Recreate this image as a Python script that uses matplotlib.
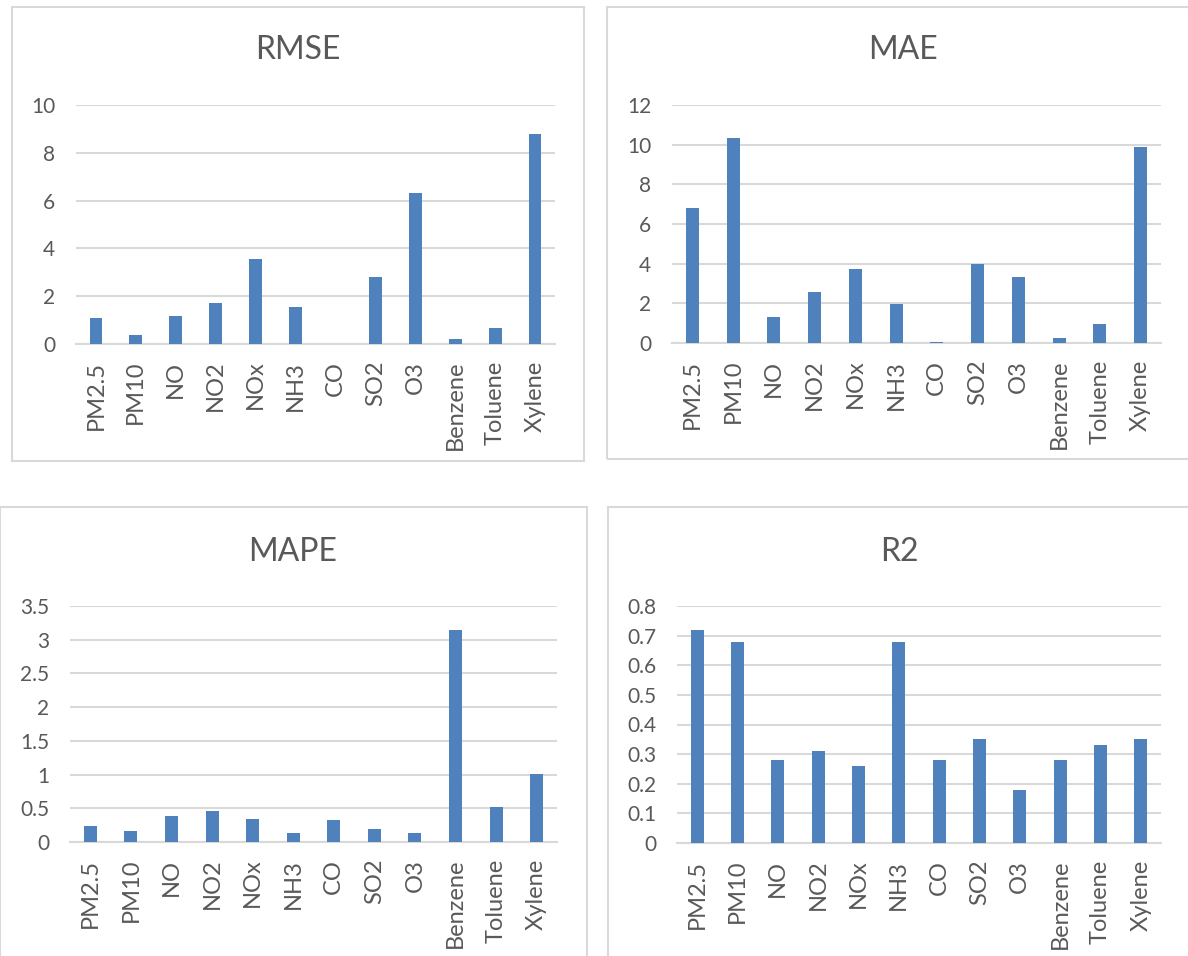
import matplotlib.pyplot as plt
from matplotlib.patches import Rectangle
import numpy as np

plt.rcParams['font.family'] = ['Lato', 'DejaVu Sans']

pollutants = ['PM2.5', 'PM10', 'NO', 'NO2', 'NOx', 'NH3', 'CO', 'SO2', 'O3',
              'Benzene', 'Toluene', 'Xylene']

rmse = [1.07, 0.36, 1.17, 1.73, 3.54, 1.55, 0.0, 2.80, 6.33, 0.21, 0.66, 8.79]
mae = [6.80, 10.35, 1.30, 2.58, 3.74, 1.95, 0.07, 3.97, 3.32, 0.24, 0.98, 9.90]
mape = [0.24, 0.17, 0.38, 0.465, 0.335, 0.14, 0.33, 0.19, 0.14, 3.14, 0.515, 1.015]
r2 = [0.72, 0.68, 0.28, 0.31, 0.26, 0.68, 0.28, 0.35, 0.18, 0.28, 0.33, 0.35]

BAR = '#4F81BD'
TEXT = '#595959'
GRID = '#D9D9D9'

W, H = 1188, 956
fig = plt.figure(figsize=(W / 100, H / 100), dpi=100)
fig.patch.set_facecolor('white')


def px_rect(x0, x1, y0, y1):
    # pixel box (top-left origin) -> figure fraction [left, bottom, width, height]
    return [x0 / W, 1 - y1 / H, (x1 - x0) / W, (y1 - y0) / H]


panels = [
    # title, values, ymax, step, ticklabels, axes box, frame box, title pos
    ('RMSE', rmse, 10, 2, None, (76, 555, 105, 344), (12, 584, 7, 461), (298, 50)),
    ('MAE', mae, 12, 2, None, (672, 1161, 105, 343), (607, 1195, 7, 459), (903, 50)),
    ('MAPE', mape, 3.5, 0.5, ['0', '0.5', '1', '1.5', '2', '2.5', '3', '3.5'],
     (70, 557, 606, 842), (0, 587, 507, 962), (293, 552)),
    ('R2', r2, 0.8, 0.1, ['0', '0.1', '0.2', '0.3', '0.4', '0.5', '0.6', '0.7', '0.8'],
     (677, 1161, 606, 843), (608, 1195, 507, 962), (899, 552)),
]

for title, vals, ymax, step, ylabels, ax_box, frame, tpos in panels:
    fx0, fx1, fy0, fy1 = frame
    fig.patches.append(Rectangle((fx0 / W, 1 - fy1 / H), (fx1 - fx0) / W, (fy1 - fy0) / H,
                                 transform=fig.transFigure, facecolor='none',
                                 edgecolor=GRID, linewidth=1.5, zorder=0))

    ax = fig.add_axes(px_rect(*ax_box))
    x = np.arange(len(pollutants))
    ax.bar(x, vals, width=0.32, color=BAR, zorder=3)
    ax.set_xlim(-0.5, len(pollutants) - 0.5)
    ax.set_ylim(0, ymax)
    ticks = np.arange(0, ymax + step / 2, step)
    ax.set_yticks(ticks)
    if ylabels is not None:
        ax.set_yticklabels(ylabels)
    ax.set_xticks(x)
    ax.set_xticklabels(pollutants, rotation=90)
    ax.grid(axis='y', color=GRID, linewidth=1.5, zorder=0)
    ax.set_axisbelow(True)
    for s in ['top', 'right', 'left']:
        ax.spines[s].set_visible(False)
    ax.spines['bottom'].set_color(GRID)
    ax.spines['bottom'].set_linewidth(1.5)
    ax.tick_params(axis='y', length=0, pad=15, labelsize=15, labelcolor=TEXT)
    ax.tick_params(axis='x', length=0, pad=12, labelsize=17, labelcolor=TEXT)

    fig.text(tpos[0] / W, 1 - tpos[1] / H, title, ha='center', va='center',
             fontsize=23, color=TEXT)

fig.savefig('out.png', dpi=100, facecolor='white')
